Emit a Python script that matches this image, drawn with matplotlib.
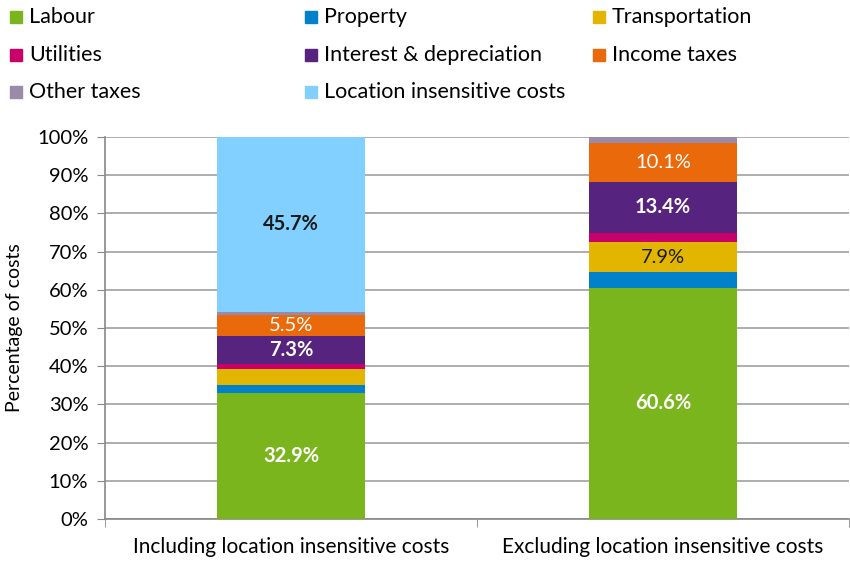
import matplotlib
matplotlib.use("Agg")
import matplotlib.pyplot as plt
from matplotlib.patches import Rectangle
import numpy as np

plt.rcParams["font.family"] = ["Lato", "DejaVu Sans"]

categories = ["Including location insensitive costs",
              "Excluding location insensitive costs"]
series = ["Labour", "Property", "Transportation", "Utilities",
          "Interest & depreciation", "Income taxes", "Other taxes",
          "Location insensitive costs"]
values = {
    "Labour": [32.9, 60.6],
    "Property": [2.1, 4.0],
    "Transportation": [4.3, 7.9],
    "Utilities": [1.3, 2.4],
    "Interest & depreciation": [7.3, 13.4],
    "Income taxes": [5.5, 10.1],
    "Other taxes": [0.9, 1.6],
    "Location insensitive costs": [45.7, 0.0],
}

COLORS = {
    "Labour": "#7AB51D",
    "Property": "#0081C9",
    "Transportation": "#E2B500",
    "Utilities": "#C8006A",
    "Interest & depreciation": "#56237E",
    "Income taxes": "#EA6A0B",
    "Other taxes": "#9A8AAA",
    "Location insensitive costs": "#82D0FF",
}
# label colour / weight per series (only segments >= 5% get a label)
LABEL_STYLE = {
    "Labour": ("white", "bold"),
    "Transportation": ("#1a1a1a", "normal"),
    "Interest & depreciation": ("white", "bold"),
    "Income taxes": ("white", "normal"),
    "Location insensitive costs": ("#1a1a1a", "bold"),
}

fig = plt.figure(figsize=(8.5, 5.63), dpi=100)
ax = fig.add_axes([105 / 850, 44 / 563, 744 / 850, 382 / 563])

x = np.arange(len(categories))
bottom = np.zeros(len(categories))
for s in series:
    v = np.array(values[s])
    ax.bar(x, v, bottom=bottom, width=0.4, color=COLORS[s], zorder=3)
    for i, val in enumerate(v):
        if val >= 5:
            col, wt = LABEL_STYLE.get(s, ("white", "normal"))
            ax.text(x[i], bottom[i] + val / 2, f"{val:.1f}%", ha="center",
                    va="center", color=col, fontweight=wt, fontsize=14.5,
                    zorder=4)
    bottom += v

ax.set_xlim(-0.5, 1.5)
ax.set_ylim(0, 100)
ax.set_yticks(range(0, 101, 10))
ax.set_yticklabels([f"{t}%" for t in range(0, 101, 10)], fontsize=14.5)
ax.yaxis.grid(True, color="#A0A0A0", linewidth=1.2, zorder=0)
ax.set_xticks(x)
ax.set_xticklabels(categories, fontsize=15)
ax.set_xticks([-0.5, 0.5, 1.5], minor=True)
ax.tick_params(axis="x", which="major", length=0, pad=13)
ax.tick_params(axis="x", which="minor", length=6, color="#888888", direction="out")
ax.tick_params(axis="y", length=6, color="#888888", direction="out", pad=6)
for side in ["top", "right"]:
    ax.spines[side].set_visible(False)
for side in ["left", "bottom"]:
    ax.spines[side].set_color("#888888")
    ax.spines[side].set_linewidth(1.2)
ax.set_ylabel("Percentage of costs", fontsize=14, labelpad=10)

# legend, 3 evenly spaced columns
col_x = [10, 305, 593]
row_y = [17, 55, 92]
for k, s in enumerate(series):
    cx = col_x[k % 3]
    cy = row_y[k // 3]
    fig.patches.append(Rectangle(((cx) / 850, 1 - (cy + 6) / 563), 12 / 850,
                                 12 / 563, transform=fig.transFigure,
                                 color=COLORS[s]))
    fig.text((cx + 19) / 850, 1 - cy / 563, s, fontsize=15.5, va="center",
             ha="left")

fig.savefig("out.png", dpi=100)
